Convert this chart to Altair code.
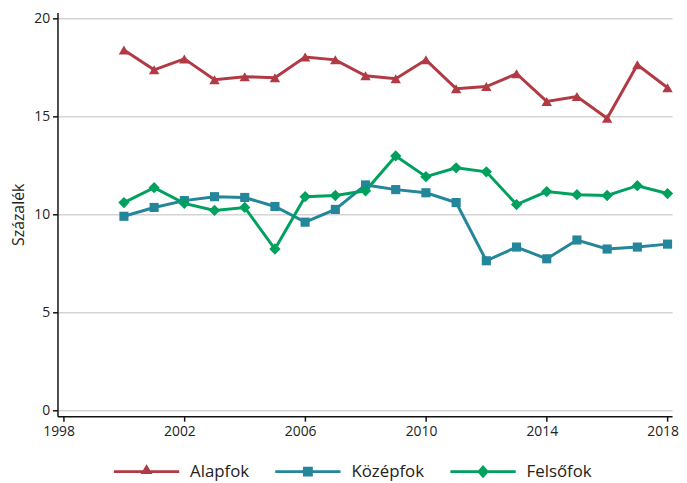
import altair as alt
import pandas as pd

years = list(range(2000, 2019))
series_names = ["Alapfok", "Középfok", "Felsőfok"]
alapfok = [18.38, 17.37, 17.93, 16.87, 17.02, 16.97, 18.03, 17.88, 17.07, 16.92,
           17.88, 16.41, 16.52, 17.17, 15.76, 16.01, 14.90, 17.63, 16.46]
kozepfok = [9.90, 10.35, 10.70, 10.90, 10.86, 10.40, 9.60, 10.25, 11.50, 11.26,
            11.10, 10.60, 7.63, 8.33, 7.73, 8.69, 8.23, 8.33, 8.48]
felsofok = [10.60, 11.36, 10.56, 10.20, 10.35, 8.23, 10.90, 10.96, 11.20, 12.98,
            11.92, 12.37, 12.17, 10.50, 11.16, 11.00, 10.96, 11.46, 11.06]
colors = ["#B23A44", "#23869A", "#00A05E"]
point_shapes = ["triangle-up", "square", "diamond"]
point_sizes = [110, 85, 130]
x_ticks = [1998, 2002, 2006, 2010, 2014, 2018]
y_ticks = [0, 5, 10, 15, 20]

# legend symbols: line segment with marker in the middle (1 unit = 10 px)
legend_paths = [
    "M-3.3,-0.15H3.3V0.15H-3.3Z M-0.6,0.23L0,-0.75L0.6,0.23Z",
    "M-3.3,-0.15H3.3V0.15H-3.3Z M-0.5,-0.5H0.5V0.5H-0.5Z",
    "M-3.3,-0.15H3.3V0.15H-3.3Z M-0.6,0L0,-0.66L0.6,0L0,0.66Z",
]

rows = []
for name, vals in zip(series_names, [alapfok, kozepfok, felsofok]):
    for yr, v in zip(years, vals):
        rows.append({"year": yr, "value": v, "series": name})
df = pd.DataFrame(rows)

FONT = "Open Sans"

x_enc = alt.X("year:Q",
              scale=alt.Scale(domain=[1997.8, 2018.15], nice=False, zero=False),
              axis=alt.Axis(values=x_ticks, format="d", title=None, grid=False,
                            labelOffset=-5))
y_enc = alt.Y("value:Q",
              scale=alt.Scale(domain=[-0.3, 20.3], nice=False, zero=False),
              axis=alt.Axis(values=y_ticks, title="Százalék", grid=True,
                            titlePadding=7))

base = alt.Chart(df)
layers = []
for name, col in zip(series_names, colors):
    layers.append(
        base.transform_filter(alt.datum.series == name)
        .mark_line(color=col, strokeWidth=3)
        .encode(x=x_enc, y=y_enc)
    )
for name, col, shp, sz in zip(series_names, colors, point_shapes, point_sizes):
    layers.append(
        base.transform_filter(alt.datum.series == name)
        .mark_point(color=col, shape=shp, filled=True, size=sz, opacity=1)
        .encode(x=x_enc, y=y_enc)
    )

legend_layer = base.transform_filter("false").mark_point(filled=True, opacity=1).encode(
    x=x_enc, y=y_enc,
    color=alt.Color("series:N", scale=alt.Scale(domain=series_names, range=colors),
                    legend=alt.Legend(title=None)),
    shape=alt.Shape("series:N", scale=alt.Scale(domain=series_names, range=legend_paths),
                    legend=alt.Legend(title=None)),
)
layers.append(legend_layer)

chart = alt.layer(*layers).properties(
    width=621, height=408,
    padding={"left": 2, "top": 0, "right": 0, "bottom": 0},
).configure_view(stroke=None).configure_axis(
    labelFont=FONT, titleFont=FONT, labelFontSize=14, titleFontSize=16,
    titleFontWeight="normal", labelColor="#222", titleColor="#222",
    domainColor="#111", domainWidth=1.5, tickColor="#111", tickWidth=1.5, tickSize=5,
    gridColor="#d4d4d4", gridWidth=1.5, labelPadding=3,
).configure_legend(
    orient="none", legendX=80, legendY=454, direction="horizontal",
    labelFont=FONT, labelFontSize=17,
    labelColor="#222", symbolSize=400, symbolStrokeWidth=0, labelOffset=34,
    columnPadding=26, padding=0,
)

chart.save("out.html", embed_options={"renderer": "svg", "actions": False})
